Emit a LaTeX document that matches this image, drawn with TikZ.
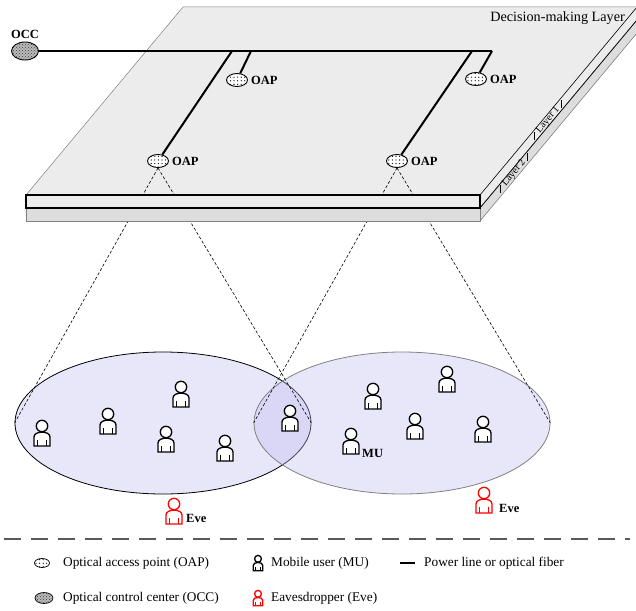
\documentclass[tikz,border=0pt]{standalone}
\usepackage{fontspec}
\setmainfont{Liberation Serif}
\usetikzlibrary{shapes.geometric,patterns,patterns.meta}

\definecolor{platetop}{RGB}{236,236,236}
\definecolor{platelow}{RGB}{221,221,221}
\definecolor{cellfill}{RGB}{190,186,240}

\tikzset{
  oap/.style={ellipse,draw,line width=0.9pt,fill=white,inner sep=0pt,
    minimum width=21pt,minimum height=13pt,
    postaction={pattern={Dots[distance=3.6pt,radius=0.65pt]}}},
  occ/.style={ellipse,draw,line width=0.9pt,fill=gray!55,inner sep=0pt,
    minimum width=27pt,minimum height=18pt,
    postaction={pattern=crosshatch dots,pattern color=black!75}},
  tag/.style={font=\bfseries\fontsize{12.5}{14}\selectfont,inner sep=0pt},
  txt/.style={font=\fontsize{13.3}{15}\selectfont,inner sep=0pt,anchor=west},
  layertext/.style={font=\fontsize{10}{12}\selectfont,inner sep=0pt,rotate=50},
  fiber/.style={line width=2pt},
  cone/.style={dash pattern=on 3pt off 2pt,line width=0.6pt},
  cell/.style={ellipse,inner sep=0pt,minimum width=296pt,minimum height=142pt,
    fill=cellfill,fill opacity=0.35,line width=0.8pt},
  user/.pic={
    \draw[line width=1.3pt,fill=white] (-8,13) -- (-8,4)
      .. controls (-8,-2.5) and (8,-2.5) .. (8,4) -- (8,13) -- cycle;
    \draw[line width=1.1pt] (-4.7,7) -- (-4.7,13) (4.7,7) -- (4.7,13);
    \draw[line width=1.3pt,fill=white] (0,-7) circle (5.7);
  }
}

\begin{document}
\begin{tikzpicture}[x=1pt,y=-1pt]
  \useasboundingbox (0,0) rectangle (636,610);
  \clip (0,0) rectangle (636,610);

  % top face of the plate
  \fill[platetop] (183,7) -- (26,195) -- (480,195) -- (637,7) -- cycle;
  \draw[gray,line width=0.5pt] (26,195) -- (183,7) -- (640,7);
  \node[font=\fontsize{14.2}{16}\selectfont,inner sep=0pt,anchor=east] (dml) at (625,18) {Decision-making Layer};

  % coverage cells
  \node[cell,draw=black] (cellL) at (163,423) {};
  \node[cell,draw=gray] (cellR) at (402,423) {};

  % access points and control center
  \node[oap,label={[tag,label distance=3pt]right:OAP}] (oapA) at (237,80) {};
  \node[oap,label={[tag,label distance=3pt]right:OAP}] (oapB) at (476,79) {};
  \node[oap,label={[tag,label distance=3pt]right:OAP}] (oapC) at (158,161) {};
  \node[oap,label={[tag,label distance=3pt]right:OAP}] (oapD) at (397,161) {};
  \node[occ,label={[tag,yshift=3pt]above:OCC}] (occ) at (25,51) {};

  % light cones
  \draw[cone] (oapC.south) -- (cellL.west) (oapC.south) -- (cellL.east);
  \draw[cone] (oapD.south) -- (cellR.west) (oapD.south) -- (cellR.east);

  % front and side of the two layers
  \filldraw[fill=platetop,draw=black,line width=0.6pt] (480,195) -- (637,7) -- (637,20) -- (480,208) -- cycle;
  \filldraw[fill=platelow,draw=gray,line width=0.6pt] (480,208) -- (637,20) -- (637,33) -- (480,221) -- cycle;
  \draw[black,line width=0.6pt] (480,208) -- (637,20);
  \filldraw[fill=platelow,draw=gray,line width=0.6pt] (26,208) rectangle (480,221);
  \filldraw[fill=platetop,draw=black,line width=1.1pt] (26,195) rectangle (480,208);
  \node[layertext] (lay1) at (548,120) {Layer 1};
  \node[layertext] (lay2) at (514,173) {Layer 2};
  \draw[line width=0.6pt] (534.5,132) -- (534.5,140) (561.5,100) -- (561.5,108);
  \draw[line width=0.6pt] (500.5,185) -- (500.5,193) (527.5,153) -- (527.5,161);

  % power line / optical fiber
  \coordinate (j1) at (232,51);
  \coordinate (j2) at (251,51);
  \coordinate (j3) at (472,51);
  \coordinate (j4) at (492,51);
  \draw[fiber] (occ) -- (j4);
  \draw[fiber] (j1) -- (oapC);
  \draw[fiber] (j2) -- (oapA);
  \draw[fiber] (j3) -- (oapD);
  \draw[fiber] (j4) -- (oapB);

  % mobile users
  \pic (u1) at (42,433) {user};
  \pic (u2) at (108,421) {user};
  \pic (u3) at (181,394) {user};
  \pic (u4) at (166,439) {user};
  \pic (u5) at (225,448) {user};
  \pic (u6) at (290,418) {user};
  \pic (u7) at (373,396) {user};
  \pic (u8) at (447,379) {user};
  \pic (u9) at (415,426) {user};
  \pic (u10) at (483,429) {user};
  \pic (u11) at (351,441) {user};
  \node[tag,anchor=west] (mu) at (362,453) {MU};

  % eavesdroppers
  \pic[red] (eve1) at (174,511) {user};
  \node[tag,anchor=west] (evel1) at (186,518) {Eve};
  \pic[red] (eve2) at (484,500) {user};
  \node[tag,anchor=west] (evel2) at (499,508) {Eve};

  % legend
  \draw[gray!70!black,line width=2.5pt,dash pattern=on 17pt off 10pt] (4,539) -- (630,539);
  \node[oap,minimum width=15pt,minimum height=9pt,line width=0.7pt] (lgoap) at (42,563) {};
  \node[txt] (lgoapt) at (63,563) {Optical access point (OAP)};
  \pic[scale=0.6] (lgmu) at (258,563) {user};
  \node[txt] (lgmut) at (271,563) {Mobile user (MU)};
  \draw[fiber] (400,563) -- (415,563);
  \node[txt] (lgfib) at (424,563) {Power line or optical fiber};
  \node[occ,minimum width=18pt,minimum height=11pt,line width=0.7pt] (lgocc) at (44,598) {};
  \node[txt] (lgocct) at (63,598) {Optical control center (OCC)};
  \pic[red,scale=0.6] (lgeve) at (258,598) {user};
  \node[txt] (lgevet) at (271,598) {Eavesdropper (Eve)};
\end{tikzpicture}
\end{document}
